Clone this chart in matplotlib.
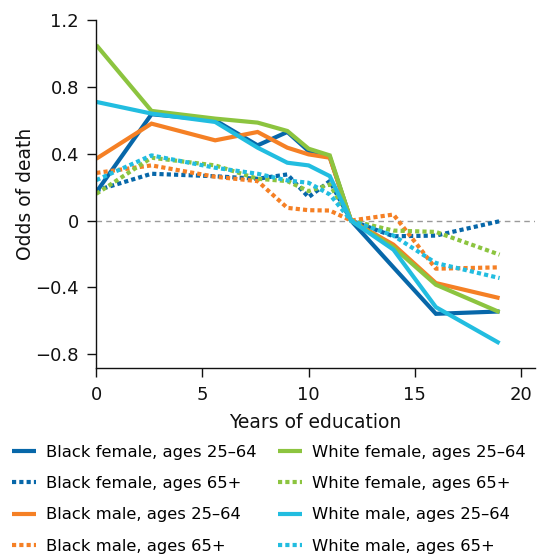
import matplotlib
matplotlib.use("Agg")
import matplotlib.pyplot as plt

# Data
years = [0, 2.6, 5.6, 7.6, 9, 10, 11, 12, 14, 16, 19]
black_female_25_64 = [0.17, 0.636, 0.60, 0.45, 0.53, 0.416, 0.38, 0.0, -0.28, -0.558, -0.544]
black_female_65 = [0.18, 0.28, 0.265, 0.25, 0.276, 0.14, 0.236, 0.0, -0.094, -0.09, -0.004]
black_male_25_64 = [0.37, 0.58, 0.48, 0.53, 0.436, 0.396, 0.376, 0.0, -0.144, -0.374, -0.464]
black_male_65 = [0.285, 0.33, 0.262, 0.236, 0.076, 0.062, 0.06, 0.0, 0.036, -0.288, -0.28]
white_female_25_64 = [1.05, 0.656, 0.61, 0.586, 0.536, 0.43, 0.39, 0.0, -0.16, -0.384, -0.548]
white_female_65 = [0.16, 0.376, 0.33, 0.25, 0.236, 0.176, 0.216, 0.0, -0.06, -0.068, -0.204]
white_male_25_64 = [0.71, 0.64, 0.59, 0.436, 0.346, 0.33, 0.266, 0.0, -0.174, -0.518, -0.734]
white_male_65 = [0.242, 0.39, 0.316, 0.28, 0.24, 0.226, 0.156, 0.0, -0.09, -0.254, -0.344]

labels = ["Black female, ages 25\u201364", "Black female, ages 65+",
          "Black male, ages 25\u201364", "Black male, ages 65+",
          "White female, ages 25\u201364", "White female, ages 65+",
          "White male, ages 25\u201364", "White male, ages 65+"]

yticks = [-0.8, -0.4, 0, 0.4, 0.8, 1.2]
ytick_labels = ["\u22120.8", "\u22120.4", "0", "0.4", "0.8", "1.2"]
xticks = [0, 5, 10, 15, 20]
xtick_labels = ["0", "5", "10", "15", "20"]

blue = "#0767a9"
orange = "#f58025"
green = "#8cc43f"
cyan = "#22bde0"

series = [black_female_25_64, black_female_65, black_male_25_64, black_male_65,
          white_female_25_64, white_female_65, white_male_25_64, white_male_65]
colors = [blue, blue, orange, orange, green, green, cyan, cyan]
styles = ["solid", (0, (1, 0.75))] * 4

fig = plt.figure(figsize=(5.42, 5.54), dpi=100)
ax = fig.add_axes([0.1777, 0.3352, 0.8094, 0.6287])

ax.axhline(0, color="#9a9a9a", lw=1.0, ls=(0, (4, 3)), zorder=1)

lines = []
for s, c, ls, lab in zip(series, colors, styles, labels):
    ln, = ax.plot(years, s, color=c, lw=3.0, ls=ls, label=lab,
                  solid_capstyle="butt", dash_capstyle="butt", solid_joinstyle="miter")
    lines.append(ln)

ax.set_xlim(0, 20.67)
ax.set_ylim(-0.884, 1.2)
ax.set_xticks(xticks)
ax.set_xticklabels(xtick_labels)
ax.set_yticks(yticks)
ax.set_yticklabels(ytick_labels)
ax.spines["top"].set_visible(False)
ax.spines["right"].set_visible(False)
for sp in ("left", "bottom"):
    ax.spines[sp].set_linewidth(1.0)
    ax.spines[sp].set_color("#111111")
ax.tick_params(direction="out", length=6.5, width=1.0, labelsize=13, colors="#111111")
ax.tick_params(axis="x", pad=6.5)
ax.tick_params(axis="y", pad=6)
ax.set_xlabel("Years of education", fontsize=13.5, color="#111111", labelpad=6.5)
ax.set_ylabel("Odds of death", fontsize=13.5, color="#111111", labelpad=0)

fig.legend(handles=lines, loc="upper left", bbox_to_anchor=(0.022, 0.1975),
           ncol=2, frameon=False, fontsize=11.8, handlelength=1.47,
           handletextpad=0.6, columnspacing=1.3, labelspacing=1.0,
           borderaxespad=0.0, borderpad=0.0)

fig.savefig("out.png", dpi=100)
